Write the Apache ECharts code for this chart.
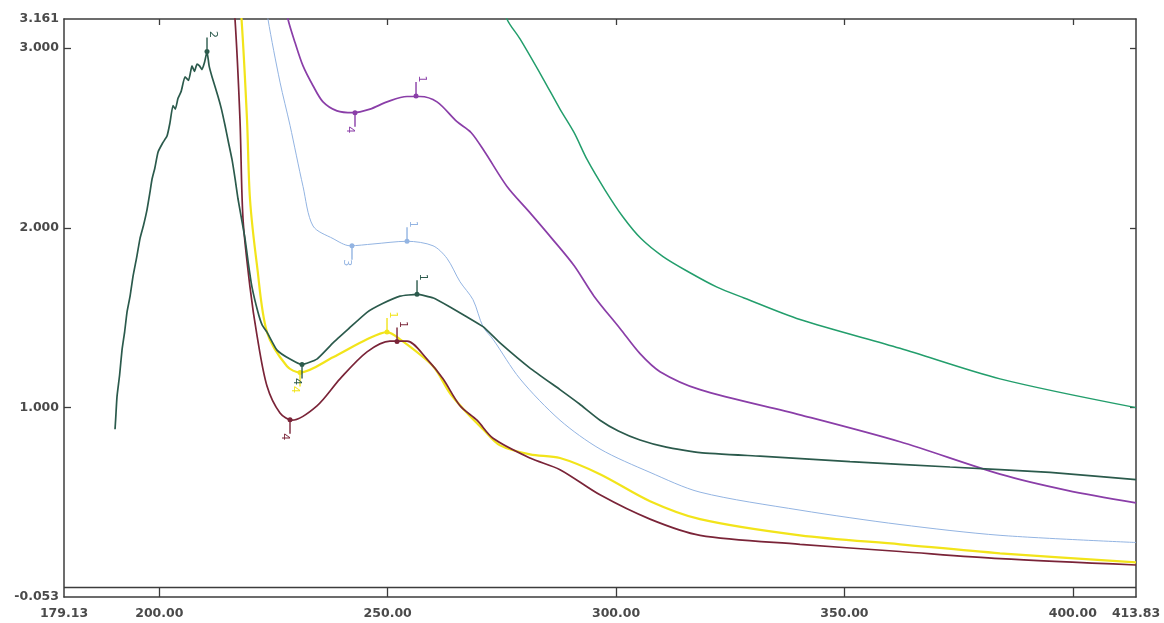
<!DOCTYPE html>
<html>
<head>
<meta charset="utf-8">
<script src="https://cdn.jsdelivr.net/npm/echarts/dist/echarts.min.js"></script>
<style>
  html, body { margin: 0; padding: 0; background: #ffffff; }
  #chart { width: 1164px; height: 623px; }
</style>
</head>
<body>
<div id="chart"></div>
<script>
// ---- axis values ----
const wlMin = 179.13, wlMax = 413.83;
const absMin = -0.053, absMax = 3.161;
const wlLabels = [179.13, 200, 250, 300, 350, 400, 413.83];
const wlTicks = [200, 250, 300, 350, 400];
const absLabels = [-0.053, 1, 2, 3, 3.161];
const absTicks = [1, 2, 3];
const baselineAbs = 0;

// ---- spectra: [wavelength nm, absorbance] ----
const darkGreen = [[190.30,0.88],[190.45,0.94],[190.73,1.06],[191.30,1.18],[191.83,1.32],[192.40,1.42],[192.92,1.53],[193.60,1.62],[194.24,1.73],[195.00,1.83],[195.77,1.94],[196.50,2.01],[197.30,2.10],[197.90,2.19],[198.40,2.27],[199.00,2.33],[199.71,2.42],[200.70,2.47],[201.68,2.51],[202.30,2.58],[202.99,2.68],[203.50,2.66],[204.09,2.72],[204.80,2.76],[205.62,2.84],[206.40,2.82],[207.15,2.90],[207.70,2.87],[208.25,2.91],[208.80,2.90],[209.34,2.88],[209.90,2.92],[210.44,2.98],[210.90,2.90],[211.53,2.84],[212.85,2.73],[213.60,2.66],[214.38,2.57],[215.10,2.48],[215.91,2.38],[216.60,2.27],[217.23,2.16],[218.00,2.05],[218.76,1.94],[219.50,1.80],[220.29,1.67],[221.60,1.53],[222.50,1.46],[223.57,1.42],[225.76,1.32],[228.61,1.27],[231.24,1.24],[234.50,1.27],[238.03,1.36],[241.50,1.44],[245.47,1.53],[249.00,1.58],[252.69,1.62],[256.42,1.63],[260.00,1.61],[263.64,1.56],[267.00,1.51],[270.87,1.45],[274.59,1.36],[281.15,1.22],[287.72,1.10],[292.00,1.02],[296.48,0.93],[300.50,0.87],[305.24,0.82],[311.00,0.78],[318.38,0.75],[331.51,0.73],[351.22,0.70],[373.11,0.67],[395.01,0.64],[413.83,0.60]];
const purple = [[227.90,3.22],[228.17,3.16],[229.71,3.03],[231.46,2.90],[233.65,2.79],[235.84,2.70],[238.90,2.65],[242.40,2.64],[246.13,2.66],[249.85,2.70],[254.23,2.73],[257.07,2.73],[260.79,2.70],[265.17,2.59],[268.24,2.53],[271.30,2.42],[276.12,2.23],[280.94,2.09],[285.97,1.94],[290.79,1.79],[295.17,1.62],[300.86,1.44],[305.24,1.30],[309.62,1.20],[318.38,1.10],[340.27,0.96],[362.16,0.81],[384.06,0.63],[398.73,0.54],[413.83,0.47]];
const lightBlue = [[223.50,3.25],[223.79,3.16],[226.42,2.81],[228.61,2.57],[231.46,2.23],[233.65,2.01],[238.03,1.94],[241.75,1.90],[246.78,1.91],[254.23,1.925],[259.92,1.90],[262.98,1.83],[265.83,1.70],[268.68,1.60],[270.87,1.45],[273.06,1.38],[278.97,1.16],[287.72,0.93],[296.48,0.77],[307.43,0.64],[318.38,0.53],[340.27,0.43],[362.16,0.35],[384.06,0.29],[413.83,0.25]];
const yellow = [[217.50,3.25],[218.00,3.16],[219.20,2.60],[219.85,2.16],[221.39,1.79],[223.57,1.42],[227.95,1.23],[230.80,1.195],[238.03,1.28],[245.47,1.38],[249.85,1.42],[252.69,1.38],[259.92,1.23],[263.64,1.08],[267.36,0.97],[270.87,0.88],[274.59,0.79],[281.16,0.74],[287.72,0.72],[296.48,0.63],[307.43,0.48],[318.38,0.38],[340.27,0.29],[362.16,0.24],[384.06,0.19],[413.83,0.14]];
const brown = [[216.00,3.25],[216.57,3.16],[217.66,2.60],[218.32,2.05],[219.85,1.67],[221.39,1.40],[223.57,1.12],[226.42,0.97],[229.05,0.93],[234.52,1.01],[239.56,1.16],[245.47,1.31],[250.50,1.37],[254.23,1.37],[258.61,1.27],[262.11,1.16],[265.83,1.01],[269.55,0.93],[273.06,0.83],[281.16,0.72],[287.72,0.655],[296.48,0.515],[307.43,0.38],[318.38,0.29],[340.27,0.24],[362.16,0.20],[384.06,0.16],[413.83,0.125]];
const teal = [[275.50,3.25],[276.12,3.16],[278.97,3.05],[284.00,2.83],[287.72,2.66],[290.79,2.53],[293.64,2.38],[297.58,2.21],[301.52,2.06],[305.46,1.94],[310.28,1.84],[316.19,1.75],[322.10,1.67],[328.01,1.61],[340.27,1.49],[362.16,1.33],[384.06,1.16],[413.83,1.00]];

// ---- peak / valley picks: [series, wavelength, absorbance, label, below] ----
const picks = [
  ['darkGreen', 210.44, 2.98, '2', false],
  ['darkGreen', 256.42, 1.63, '1', false],
  ['darkGreen', 231.24, 1.24, '4', true],
  ['purple', 256.20, 2.733, '1', false],
  ['purple', 242.84, 2.64, '4', true],
  ['lightBlue', 254.23, 1.925, '1', false],
  ['lightBlue', 242.18, 1.90, '3', true],
  ['yellow', 249.85, 1.42, '1', false],
  ['yellow', 230.80, 1.195, '4', true],
  ['brown', 252.04, 1.368, '1', false],
  ['brown', 228.61, 0.933, '4', true]
];

const styles = {
  teal:      { color: '#239e6c', width: 1.5, smooth: 0.3 },
  lightBlue: { color: '#93b4e2', width: 1.0, smooth: 0.3 },
  purple:    { color: '#8a3ea8', width: 1.7, smooth: 0.3 },
  yellow:    { color: '#f2e41a', width: 2.2, smooth: 0.3 },
  brown:     { color: '#7a2438', width: 1.7, smooth: 0.3 },
  darkGreen: { color: '#2b5a4c', width: 1.7, smooth: 0.15 }
};
const seriesData = { teal, lightBlue, purple, yellow, brown, darkGreen };
const order = ['teal', 'lightBlue', 'purple', 'yellow', 'brown', 'darkGreen'];

const frameColor = '#3c3c3c';
const labelFont = { fontFamily: 'DejaVu Sans', fontWeight: 'bold', fontSize: 12.5, color: '#4a4a4a' };

function marksFor(name) {
  const col = styles[name].color;
  const out = [];
  picks.filter(p => p[0] === name).forEach(p => {
    const below = p[4];
    out.push({ coord: [p[1], p[2]], symbol: 'circle', symbolSize: 5,
      itemStyle: { color: col }, label: { show: false } });
    out.push({ coord: [p[1], p[2]], symbol: 'rect', symbolSize: [1.4, 12],
      symbolOffset: [0, below ? 8 : -8], itemStyle: { color: col },
      label: { show: true, formatter: p[3], position: below ? 'bottom' : 'top',
        distance: 3, rotate: -90, color: col, fontSize: 11, fontFamily: 'DejaVu Sans' } });
  });
  return out;
}

const series = order.map(name => {
  const s = {
    name: name,
    type: 'line',
    data: seriesData[name],
    showSymbol: false,
    symbol: 'none',
    smooth: styles[name].smooth,
    clip: true,
    lineStyle: { color: styles[name].color, width: styles[name].width },
    itemStyle: { color: styles[name].color },
    animation: false,
    z: 3
  };
  const mp = marksFor(name);
  if (mp.length) s.markPoint = { data: mp, silent: true, animation: false };
  return s;
});
series[0].markLine = {
  silent: true, symbol: 'none', animation: false,
  label: { show: false },
  lineStyle: { color: frameColor, width: 1.3, type: 'solid' },
  data: [{ yAxis: baselineAbs }]
};

const chart = echarts.init(document.getElementById('chart'), null, { renderer: 'canvas' });
chart.setOption({
  backgroundColor: '#ffffff',
  animation: false,
  grid: { left: 64, right: 28, top: 19, bottom: 26, outerBoundsMode: 'none', containLabel: false },
  xAxis: [
    {
      type: 'value', position: 'bottom', min: wlMin, max: wlMax,
      axisLine: { show: true, onZero: false, lineStyle: { color: frameColor, width: 1.5 } },
      axisTick: { show: true, inside: true, length: 9, customValues: wlTicks, lineStyle: { color: frameColor, width: 1.3 } },
      axisLabel: Object.assign({ show: true, margin: 10, customValues: wlLabels,
        formatter: v => Number(v).toFixed(2) }, labelFont),
      splitLine: { show: false }
    },
    {
      type: 'value', position: 'top', min: wlMin, max: wlMax,
      axisLine: { show: true, onZero: false, lineStyle: { color: frameColor, width: 1.5 } },
      axisTick: { show: true, inside: true, length: 6, customValues: wlTicks, lineStyle: { color: frameColor, width: 1.3 } },
      axisLabel: { show: false },
      splitLine: { show: false }
    }
  ],
  yAxis: [
    {
      type: 'value', position: 'left', min: absMin, max: absMax,
      axisLine: { show: true, onZero: false, lineStyle: { color: frameColor, width: 1.5 } },
      axisTick: { show: true, inside: true, length: 7, customValues: absTicks, lineStyle: { color: frameColor, width: 1.3 } },
      axisLabel: Object.assign({ show: true, margin: 5, customValues: absLabels,
        formatter: v => Number(v).toFixed(3) }, labelFont),
      splitLine: { show: false }
    },
    {
      type: 'value', position: 'right', min: absMin, max: absMax,
      axisLine: { show: true, onZero: false, lineStyle: { color: frameColor, width: 1.5 } },
      axisTick: { show: true, inside: true, length: 6, customValues: absTicks, lineStyle: { color: frameColor, width: 1.3 } },
      axisLabel: { show: false },
      splitLine: { show: false }
    }
  ],
  series: series
});
</script>
</body>
</html>
